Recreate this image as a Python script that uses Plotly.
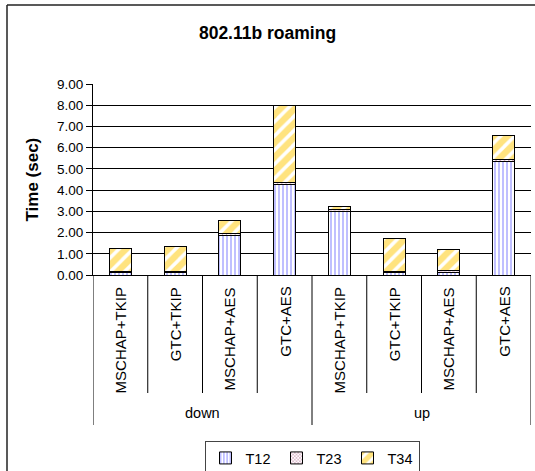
import plotly.graph_objects as go

# Roaming time breakdown for 802.11b, per direction and auth/cipher setup
directions = ["down", "down", "down", "down", "up", "up", "up", "up"]
configs = ["MSCHAP+TKIP", "GTC+TKIP", "MSCHAP+AES", "GTC+AES",
           "MSCHAP+TKIP", "GTC+TKIP", "MSCHAP+AES", "GTC+AES"]
t12 = [0.10, 0.10, 1.88, 4.28, 2.98, 0.10, 0.12, 5.33]
t23 = [0.08, 0.06, 0.06, 0.10, 0.12, 0.05, 0.07, 0.10]
t34 = [1.08, 1.18, 0.61, 3.60, 0.15, 1.56, 1.02, 1.13]
y_ticks = [0, 1, 2, 3, 4, 5, 6, 7, 8, 9]

FONT = "Arial, Liberation Sans, sans-serif"
W, H = 535, 471
ML, MR, MT, MB = 93, 4, 84, 196
PW, PH = W - ML - MR, H - MT - MB

def py(pix):
    """pixel row -> paper y"""
    return (H - MB - pix) / PH

def px(pix):
    """pixel column -> paper x"""
    return (pix - ML) / PW

xpos = list(range(len(configs)))

series = [
    ("T12", t12, dict(shape="|", fgcolor="#7f7fff", bgcolor="#ffffff", size=4, solidity=0.5)),
    ("T23", t23, dict(shape="x", fgcolor="#993366", bgcolor="#ffffff", size=3, solidity=0.4)),
    ("T34", t34, dict(shape="/", fgcolor="#ffc800", bgcolor="#ffffff", size=10, solidity=0.65)),
]

fig = go.Figure()
for name, vals, pat in series:
    fig.add_trace(go.Bar(
        x=xpos, y=vals, name=name,
        marker=dict(color="#ffffff", pattern=pat,
                    line=dict(color="#000000", width=1)),
    ))

annotations = []
# rotated configuration labels
for i, c in zip(xpos, configs):
    annotations.append(dict(
        x=i, xref="x", y=py(285), yref="paper", text=c, textangle=-90,
        showarrow=False, xanchor="center", yanchor="top",
        font=dict(family=FONT, size=15, color="#000000")))
# direction group labels
groups = []
for i, d in zip(xpos, directions):
    if not groups or groups[-1][0] != d:
        groups.append([d, i, i])
    else:
        groups[-1][2] = i
for d, a, b in groups:
    annotations.append(dict(
        x=(a + b) / 2, xref="x", y=py(413), yref="paper", text=d,
        showarrow=False, xanchor="center", yanchor="middle",
        font=dict(family=FONT, size=14.5, color="#000000")))
# y-axis title
annotations.append(dict(
    x=px(32), xref="paper", y=0.5, yref="paper", text="<b>Time (sec)</b>",
    textangle=-90, showarrow=False, xanchor="center", yanchor="middle",
    font=dict(family=FONT, size=17, color="#000000")))

shapes = []
# dividers between category labels
group_edges = [a - 0.5 for _, a, _ in groups] + [groups[-1][2] + 0.5]
for k in range(len(xpos) + 1):
    xb = k - 0.5
    bottom = py(425) if xb in group_edges else py(393)
    shapes.append(dict(type="line", xref="x", yref="paper", x0=xb, x1=xb,
                       y0=0, y1=bottom, line=dict(color="#000000", width=1)))
# chart frame: top and left edges
shapes.append(dict(type="line", xref="paper", yref="paper",
                   x0=px(7), x1=px(535), y0=py(5), y1=py(5),
                   line=dict(color="#222222", width=1.5)))
shapes.append(dict(type="line", xref="paper", yref="paper",
                   x0=px(7), x1=px(7), y0=py(5), y1=py(471),
                   line=dict(color="#222222", width=1.5)))

fig.update_layout(
    width=W, height=H,
    margin=dict(l=ML, r=MR, t=MT, b=MB, autoexpand=False),
    paper_bgcolor="#ffffff", plot_bgcolor="#ffffff",
    barmode="stack", bargap=0.6,
    title=dict(text="<b>802.11b roaming</b>", x=0.5, xref="container",
               y=1 - 33 / H, yref="container", xanchor="center", yanchor="middle",
               font=dict(family=FONT, size=17.5, color="#000000")),
    xaxis=dict(range=[-0.5, len(xpos) - 0.5], showticklabels=False,
               showgrid=False, zeroline=False, ticks="",
               showline=True, linecolor="#000000", linewidth=1),
    yaxis=dict(range=[0, 9], tickvals=y_ticks,
               ticktext=[f"{v:.2f}" for v in y_ticks],
               ticks="outside", ticklen=6, tickcolor="#000000",
               showline=True, linecolor="#000000", linewidth=1,
               showgrid=True, gridcolor="#000000", gridwidth=1,
               zeroline=False,
               tickfont=dict(family=FONT, size=13.5, color="#000000")),
    legend=dict(orientation="h", x=0.5, xanchor="center",
                y=py(441), yanchor="top", traceorder="normal",
                bordercolor="#444444", borderwidth=1,
                font=dict(family=FONT, size=14.5, color="#000000"),
                itemwidth=30, entrywidth=26, tracegroupgap=0),
    annotations=annotations, shapes=shapes,
    showlegend=True,
)

fig.write_html("out.html")
